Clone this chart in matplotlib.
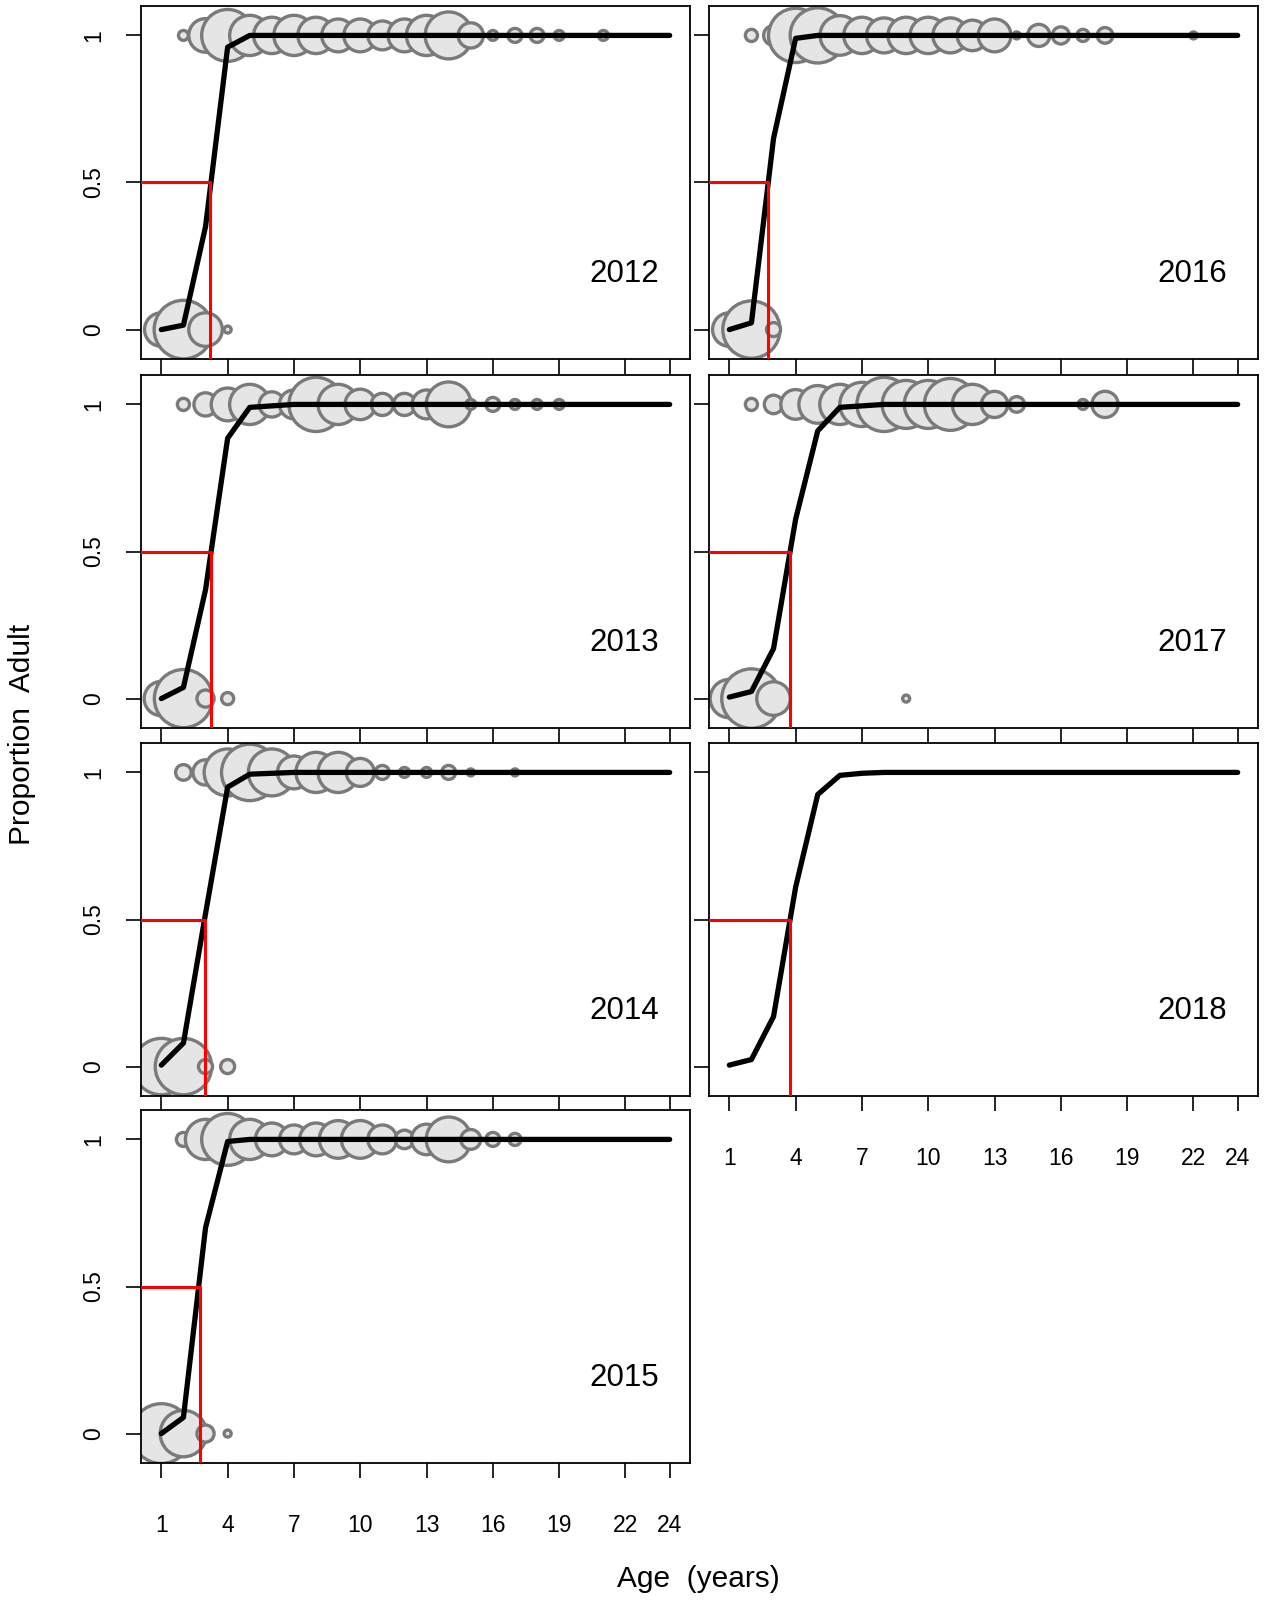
import numpy as np
import matplotlib.pyplot as plt

plt.rcParams['font.family'] = ['Liberation Sans', 'DejaVu Sans']

ages = np.arange(1, 25)
years = [2012, 2013, 2014, 2015, 2016, 2017, 2018]

# fitted proportion adult by age (ages 1..24)
fit = {
    2012: [0.0, 0.015, 0.35, 0.96, 1.0, 1.0, 1.0, 1.0, 1.0, 1.0, 1.0, 1.0,
           1.0, 1.0, 1.0, 1.0, 1.0, 1.0, 1.0, 1.0, 1.0, 1.0, 1.0, 1.0],
    2013: [0.0, 0.038, 0.37, 0.885, 0.99, 0.995, 1.0, 1.0, 1.0, 1.0, 1.0, 1.0,
           1.0, 1.0, 1.0, 1.0, 1.0, 1.0, 1.0, 1.0, 1.0, 1.0, 1.0, 1.0],
    2014: [0.005, 0.08, 0.52, 0.95, 0.994, 0.997, 1.0, 1.0, 1.0, 1.0, 1.0, 1.0,
           1.0, 1.0, 1.0, 1.0, 1.0, 1.0, 1.0, 1.0, 1.0, 1.0, 1.0, 1.0],
    2015: [0.0, 0.055, 0.70, 0.993, 1.0, 1.0, 1.0, 1.0, 1.0, 1.0, 1.0, 1.0,
           1.0, 1.0, 1.0, 1.0, 1.0, 1.0, 1.0, 1.0, 1.0, 1.0, 1.0, 1.0],
    2016: [0.0, 0.023, 0.65, 0.99, 1.0, 1.0, 1.0, 1.0, 1.0, 1.0, 1.0, 1.0,
           1.0, 1.0, 1.0, 1.0, 1.0, 1.0, 1.0, 1.0, 1.0, 1.0, 1.0, 1.0],
    2017: [0.005, 0.024, 0.17, 0.61, 0.91, 0.99, 0.995, 1.0, 1.0, 1.0, 1.0, 1.0,
           1.0, 1.0, 1.0, 1.0, 1.0, 1.0, 1.0, 1.0, 1.0, 1.0, 1.0, 1.0],
    2018: [0.005, 0.024, 0.17, 0.61, 0.925, 0.99, 0.997, 1.0, 1.0, 1.0, 1.0, 1.0,
           1.0, 1.0, 1.0, 1.0, 1.0, 1.0, 1.0, 1.0, 1.0, 1.0, 1.0, 1.0],
}

# age at 50% adult
a50 = {2012: 3.22, 2013: 3.24, 2014: 2.96, 2015: 2.74, 2016: 2.77, 2017: 3.75, 2018: 3.75}

# observed fish: juveniles (plotted at 0) and adults (plotted at 1), ages and counts
juv_age = {
    2012: [1, 2, 3, 4],
    2013: [1, 2, 3, 4],
    2014: [1, 2, 3, 4],
    2015: [1, 2, 3, 4],
    2016: [1, 2, 3],
    2017: [1, 2, 3, 9],
    2018: [],
}
juv_n = {
    2012: [23, 70, 23, 1],
    2013: [24, 69, 6, 3],
    2014: [65, 65, 4, 4],
    2015: [73, 44, 6, 1],
    2016: [23, 67, 4],
    2017: [30, 72, 23, 1],
    2018: [],
}
adu_age = {
    2012: [2, 3, 4, 5, 6, 7, 8, 9, 10, 11, 12, 13, 14, 15, 16, 17, 18, 19, 21],
    2013: [2, 3, 4, 5, 6, 7, 8, 9, 10, 11, 12, 13, 14, 15, 16, 17, 18, 19],
    2014: [2, 3, 4, 5, 6, 7, 8, 9, 10, 11, 12, 13, 14, 15, 17],
    2015: [2, 3, 4, 5, 6, 7, 8, 9, 10, 11, 12, 13, 14, 15, 16, 17],
    2016: [2, 3, 4, 5, 6, 7, 8, 9, 10, 11, 12, 13, 14, 15, 16, 17, 18, 22],
    2017: [2, 3, 4, 5, 6, 7, 8, 9, 10, 11, 12, 13, 14, 17, 18],
    2018: [],
}
adu_n = {
    2012: [2, 23, 55, 33, 27, 33, 27, 22, 22, 17, 22, 33, 45, 13, 2, 4, 4, 2, 2],
    2013: [3, 11, 22, 33, 13, 17, 60, 33, 19, 10, 10, 17, 41, 2, 4, 2, 2, 2],
    2014: [5, 13, 45, 65, 45, 22, 33, 33, 16, 4, 2, 2, 4, 1, 1],
    2015: [4, 33, 55, 33, 22, 17, 22, 29, 29, 17, 7, 19, 41, 8, 4, 3],
    2016: [3, 8, 60, 62, 32, 27, 25, 27, 27, 25, 19, 22, 1, 10, 6, 3, 5, 1],
    2017: [3, 7, 18, 29, 33, 40, 60, 47, 47, 55, 33, 14, 5, 2, 14],
    2018: [],
}

# panel slots: (column, row)
slot = {2012: (0, 0), 2013: (0, 1), 2014: (0, 2), 2015: (0, 3),
        2016: (1, 0), 2017: (1, 1), 2018: (1, 2)}

W, H = 1269, 1600
fig = plt.figure(figsize=(W / 100, H / 100), dpi=100)

col_left = [141, 709]
row_top = [6, 375, 743, 1110]
pw, ph = 549, 353

xticks = [1, 4, 7, 10, 13, 16, 19, 22, 24]
bubble = dict(facecolor='#e5e5e5', edgecolor='#7a7a7a', linewidth=2.4, zorder=2)

for yr in years:
    c, r = slot[yr]
    ax = fig.add_axes([col_left[c] / W, 1 - (row_top[r] + ph) / H, pw / W, ph / H])
    ax.set_xlim(0.08, 24.92)
    ax.set_ylim(-0.1, 1.1)

    # bubbles sized by count
    if juv_age[yr]:
        ax.scatter(juv_age[yr], np.zeros(len(juv_age[yr])),
                   s=np.array(juv_n[yr]) * 25.4, **bubble)
    if adu_age[yr]:
        ax.scatter(adu_age[yr], np.ones(len(adu_age[yr])),
                   s=np.array(adu_n[yr]) * 25.4, **bubble)

    ax.plot(ages, fit[yr], color='black', lw=3.8, solid_capstyle='round',
            solid_joinstyle='round', zorder=3)
    ax.plot([-1, a50[yr], a50[yr]], [0.5, 0.5, -1], color='red', lw=2.2, zorder=4)

    ax.text(21.95, 0.19, str(yr), fontsize=22.5, ha='center', va='center')

    ax.set_xticks(xticks)
    ax.set_yticks([0, 0.5, 1])
    ax.tick_params(direction='out', length=11, width=1.2, labelsize=16.5)
    ax.tick_params(axis='x', pad=26)
    ax.tick_params(axis='y', pad=15)
    for sp in ax.spines.values():
        sp.set_linewidth(1.3)

    if (c == 0 and r == 3) or yr == 2018:
        ax.set_xticklabels([str(t) for t in xticks])
    else:
        ax.set_xticklabels([])
    if c == 0:
        ax.set_yticklabels(['0', '0.5', '1'], rotation=90, va='center')
    else:
        ax.set_yticklabels([])

fig.text(22 / W, 1 - 734 / H, 'Proportion  Adult', rotation=90, fontsize=21.5,
         ha='center', va='center')
fig.text(698 / W, 1 - 1579 / H, 'Age  (years)', fontsize=21.5, ha='center', va='center')

fig.savefig('out.png', dpi=100)
